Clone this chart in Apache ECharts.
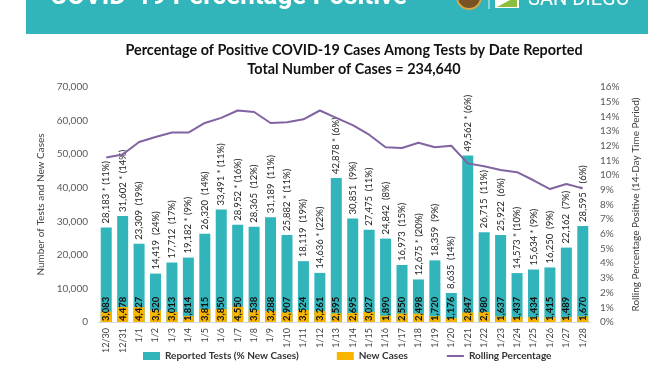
<!DOCTYPE html>
<html><head><meta charset="utf-8">
<script src="https://cdn.jsdelivr.net/npm/echarts@6/dist/echarts.min.js"></script>
<style>html,body{margin:0;padding:0;background:#fff}#c{width:672px;height:372px}</style>
</head><body><div id="c"></div>
<script>
var dates = ['12/30','12/31','1/1','1/2','1/3','1/4','1/5','1/6','1/7','1/8','1/9','1/10','1/11','1/12','1/13','1/14','1/15','1/16','1/17','1/18','1/19','1/20','1/21','1/22','1/23','1/24','1/25','1/26','1/27','1/28'];
var reportedTests = [28183,31602,23309,14419,17712,19182,26320,33491,28952,28365,31189,25882,18119,14636,42878,30851,27475,24842,16973,12675,18359,8635,49562,26715,25922,14573,15634,16250,22162,28595];
var newCasePct = [11,14,19,24,17,9,14,11,16,12,11,11,19,22,6,9,11,8,15,20,9,14,6,11,6,10,9,9,7,6];
var starred = [1,1,0,0,0,1,0,1,1,0,0,1,0,1,1,0,0,0,0,1,0,0,1,0,0,1,1,0,0,1];
var newCases = [3083,4478,4427,3520,3013,1814,3815,3850,4550,3538,3288,2907,3524,3261,2595,2695,3027,1890,2550,2498,1720,1176,2847,2980,1637,1437,1434,1415,1489,1670];
var rollingPct = [11.2,11.4,12.25,12.6,12.9,12.9,13.55,13.9,14.4,14.3,13.55,13.6,13.8,14.4,13.9,13.4,12.75,11.9,11.85,12.2,11.9,12.0,10.8,10.6,10.35,10.2,9.65,9.05,9.4,9.1];
var leftTicks = {min:0, max:70000, interval:10000};
var rightTicks = {min:0, max:16, interval:1};

var FONT = 'Lato';
var chart = echarts.init(document.getElementById('c'));
function fmt(n){ return n.toLocaleString('en-US'); }
chart.setOption({
  animation:false,
  textStyle:{fontFamily:FONT},
  title:[
    {text:'Percentage of Positive COVID-19 Cases Among Tests by Date Reported', left:349, top:38, textAlign:'center',
     textStyle:{fontFamily:FONT, fontSize:14.4, fontWeight:'bold', color:'#111'}},
    {text:'Total Number of Cases = 234,640', left:349, top:57, textAlign:'center',
     textStyle:{fontFamily:FONT, fontSize:14.4, fontWeight:'bold', color:'#111'}}
  ],
  graphic:[
    {type:'rect', shape:{x:26,y:0,width:622,height:34}, style:{fill:'#31b5bb'}, z:0},
    {type:'text', x:50, y:10, style:{text:'COVID-19 Percentage Positive', fill:'#fff', font:'bold 26px Roboto', verticalAlign:'bottom'}},
    {type:'circle', shape:{cx:469, cy:-3, r:12}, style:{fill:'#7a5222', stroke:'#d2a84a', lineWidth:2}},
    {type:'line', shape:{x1:489,y1:0,x2:489,y2:9}, style:{stroke:'#e0f4f5', lineWidth:1}},
    {type:'rect', shape:{x:495,y:0,width:24,height:8}, style:{fill:'#fff'}},
    {type:'polygon', shape:{points:[[497,7],[517,7],[517,0],[510,0]]}, style:{fill:'#8cbf3f'}},
    {type:'text', x:528, y:10, style:{text:'SAN DIEGO', fill:'#fff', font:'20px Roboto', verticalAlign:'bottom'}}
  ],
  legend:{
    left:138, top:346, itemGap:38, itemWidth:17, itemHeight:8,
    textStyle:{fontFamily:FONT, fontSize:10, fontWeight:'bold', color:'#333'},
    data:[{name:'Reported Tests (% New Cases)', icon:'rect'},{name:'New Cases', icon:'rect'},
          {name:'Rolling Percentage', itemStyle:{opacity:0}}]
  },
  grid:{left:98, right:81, top:87, bottom:50},
  xAxis:{
    type:'category', data:dates,
    axisLine:{lineStyle:{color:'#d9d9d9'}},
    axisTick:{show:false},
    axisLabel:{rotate:90, interval:0, fontSize:9, color:'#404040', margin:6, fontFamily:FONT}
  },
  yAxis:[
    {type:'value', min:leftTicks.min, max:leftTicks.max, interval:leftTicks.interval,
     name:'Number of Tests and New Cases', nameLocation:'middle', nameGap:39,
     nameTextStyle:{fontSize:10, color:'#404040', fontFamily:FONT},
     splitLine:{show:false}, axisLine:{show:false}, axisTick:{show:false},
     axisLabel:{fontSize:10, color:'#595959', margin:10, fontFamily:FONT, formatter:function(v){return fmt(v);}}},
    {type:'value', min:rightTicks.min, max:rightTicks.max, interval:rightTicks.interval,
     name:'Rolling Percentage Positive (14-Day Time Period)', nameLocation:'middle', nameGap:27, nameRotate:90,
     nameTextStyle:{fontSize:10, color:'#404040', fontFamily:FONT},
     splitLine:{show:false}, axisLine:{show:false}, axisTick:{show:false},
     axisLabel:{fontSize:10, color:'#595959', margin:9, fontFamily:FONT, formatter:'{value}%'}}
  ],
  series:[
    {name:'Reported Tests (% New Cases)', type:'bar', data:reportedTests, barWidth:11, itemStyle:{color:'#31b5bb'},
     label:{show:true, position:'top', rotate:90, align:'left', verticalAlign:'middle', distance:4,
       fontSize:9.5, color:'#262626', fontFamily:FONT,
       formatter:function(p){var i=p.dataIndex; return fmt(reportedTests[i]) + (starred[i]?' * ':'  ') + '(' + newCasePct[i] + '%)';}}},
    {name:'New Cases', type:'bar', data:newCases, barWidth:11, barGap:'-100%', itemStyle:{color:'#f7b500'},
     label:{show:true, position:'insideBottom', rotate:90, align:'left', verticalAlign:'middle', distance:1,
       fontSize:9.5, fontWeight:'bold', color:'#111', fontFamily:FONT,
       formatter:function(p){return fmt(newCases[p.dataIndex]);}}},
    {name:'Rolling Percentage', type:'line', yAxisIndex:1, data:rollingPct, symbol:'none', z:5,
     lineStyle:{color:'#8064a2', width:2}, itemStyle:{color:'#8064a2'}}
  ]
});
</script></body></html>
